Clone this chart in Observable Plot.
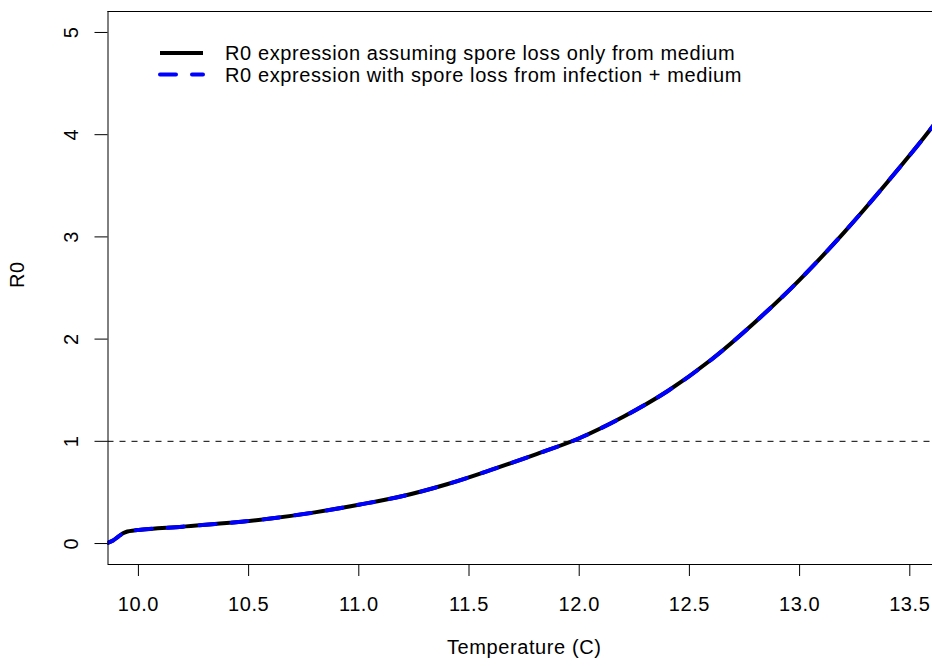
<!DOCTYPE html>
<html>
<head>
<meta charset="utf-8">
<script src="https://cdn.jsdelivr.net/npm/d3@7"></script>
<script src="https://cdn.jsdelivr.net/npm/@observablehq/plot@0.6"></script>
<style>
  html, body { margin: 0; padding: 0; background: #fff; }
  #wrap { position: relative; width: 932px; height: 666px; overflow: hidden; }
  #legend { position: absolute; left: 0; top: 0; }
  svg { font-family: "Liberation Sans", Arial, sans-serif; letter-spacing: 0.6px; }
</style>
</head>
<body>
<div id="wrap"></div>
<script>
// Temperature (C) and R0 values
const temperature = [9.858, 9.885, 9.91, 9.93, 9.95, 9.98, 10.0, 10.2, 10.4, 10.6, 10.8, 11.0, 11.2, 11.4, 11.6, 11.8, 12.0, 12.2, 12.4, 12.6, 12.8, 13.0, 13.2, 13.4, 13.6, 13.7];
const r0Medium   = [0.005, 0.03, 0.07, 0.10, 0.118, 0.128, 0.133, 0.165, 0.20, 0.245, 0.305, 0.38, 0.465, 0.58, 0.72, 0.87, 1.03, 1.24, 1.49, 1.80, 2.17, 2.58, 3.04, 3.54, 4.07, 4.36];
const r0Infect   = r0Medium.slice();
const xTicks = [10.0, 10.5, 11.0, 11.5, 12.0, 12.5, 13.0, 13.5];
const yTicks = [0, 1, 2, 3, 4, 5];
const threshold = [1];
const seriesLabels = [
  "R0 expression assuming spore loss only from medium",
  "R0 expression with spore loss from infection + medium"
];

const xDomain = [9.862, 13.603];
const yDomain = [-0.205, 5.205];

const dataA = temperature.map((t, i) => ({t, r: r0Medium[i]}));
const dataB = temperature.map((t, i) => ({t, r: r0Infect[i]}));

const font = "Liberation Sans, Arial, sans-serif";
const fs = 20;

const chart = Plot.plot({
  width: 932,
  height: 666,
  marginLeft: 107.5,
  marginRight: 0,
  marginTop: 11,
  marginBottom: 102,
  style: {fontFamily: font, fontSize: fs + "px", color: "#000", background: "#fff"},
  x: {domain: xDomain},
  y: {domain: yDomain},
  marks: [
    Plot.axisX({ticks: xTicks, tickSize: 12, tickPadding: 20, tickFormat: d3.format(".1f"), fontSize: fs, label: null, stroke: "#000", fill: "#000"}),
    Plot.axisY({ticks: yTicks, tickSize: 13, tickPadding: 17, tickRotate: -90, tickFormat: d3.format("d"), fontSize: fs, label: null, stroke: "#000", fill: "#000"}),
    Plot.ruleY(threshold, {stroke: "#000", strokeWidth: 1, strokeDasharray: "6,6"}),
    Plot.line(dataA, {x: "t", y: "r", stroke: "#000", strokeWidth: 4, curve: "monotone-x", clip: true}),
    Plot.line(dataB, {x: "t", y: "r", stroke: "#0000ff", strokeWidth: 4, strokeDasharray: "16,16", strokeLinecap: "round", curve: "monotone-x", clip: true}),
    // box: top, bottom, left
    Plot.ruleY([yDomain[1], yDomain[0]], {stroke: "#000", strokeWidth: 1}),
    Plot.ruleX([xDomain[0]], {stroke: "#000", strokeWidth: 1}),
    Plot.text(["Temperature (C)"], {frameAnchor: "bottom", dx: 4, dy: 89.5, fontSize: fs, fill: "#000"}),
    Plot.text(["R0"], {frameAnchor: "left", rotate: -90, dx: -90, fontSize: fs, fill: "#000"})
  ]
});

const wrap = document.getElementById("wrap");
wrap.appendChild(chart);

// legend overlay
const ns = "http://www.w3.org/2000/svg";
const leg = document.createElementNS(ns, "svg");
leg.setAttribute("id", "legend");
leg.setAttribute("width", 932);
leg.setAttribute("height", 100);
const rows = [
  {label: seriesLabels[0], stroke: "#000", dash: null, y: 53},
  {label: seriesLabels[1], stroke: "#0000ff", dash: "16,16", y: 74.5}
];
for (const r of rows) {
  const l = document.createElementNS(ns, "line");
  l.setAttribute("x1", 160); l.setAttribute("x2", 203);
  l.setAttribute("y1", r.y); l.setAttribute("y2", r.y);
  l.setAttribute("stroke", r.stroke);
  l.setAttribute("stroke-width", 4);
  if (r.dash) { l.setAttribute("stroke-dasharray", r.dash); l.setAttribute("stroke-linecap", "round"); }
  leg.appendChild(l);
  const t = document.createElementNS(ns, "text");
  t.setAttribute("x", 225); t.setAttribute("y", r.y + 7);
  t.setAttribute("font-size", fs);
  t.setAttribute("font-family", font);
  t.textContent = r.label;
  leg.appendChild(t);
}
wrap.appendChild(leg);
</script>
</body>
</html>
